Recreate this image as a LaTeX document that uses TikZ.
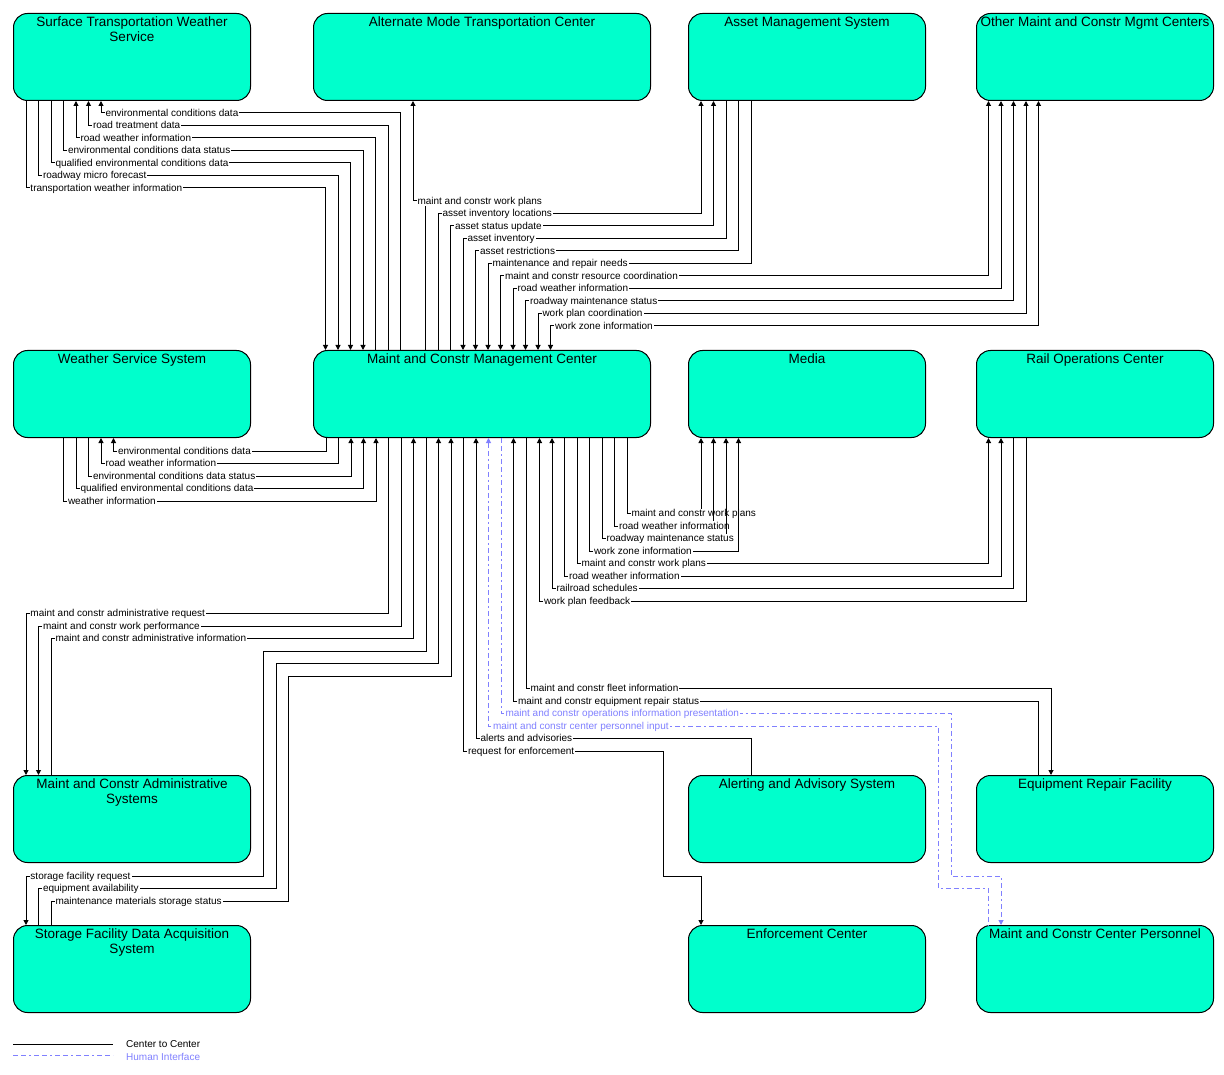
\documentclass[tikz,border=0pt]{standalone}
\usepackage{fontspec}
\setmainfont{Liberation Sans}
\usetikzlibrary{arrows.meta}
\definecolor{boxfill}{RGB}{0,255,204}
\definecolor{hiblue}{RGB}{128,128,255}
\begin{document}
\begin{tikzpicture}[x=1pt,y=-1pt,
  >={Triangle[length=5pt,width=5pt]},
  fwd/.style={->},
  bwd/.style={<-},
  box/.style={draw,fill=boxfill,rounded corners=14pt,line width=1pt,minimum width=237pt,minimum height=87pt,inner sep=0pt,anchor=north west},
  wide/.style={box,minimum width=337pt},
  ttl/.style={anchor=north,inner sep=1pt,yshift=-3pt,align=center,font=\fontsize{13.5}{15}\selectfont},
  flow/.style={line width=1pt},
  hflow/.style={flow,hiblue,dash pattern=on 5pt off 3pt on 5pt off 3pt on 2pt off 3pt},
  lab/.style={anchor=west,fill=white,inner xsep=1pt,inner ysep=0.5pt,xshift=3pt,text height=7.5pt,text depth=1pt,font=\fontsize{10}{11}\selectfont}]
\useasboundingbox (0,0) rectangle (1224,1075);
% boxes
\node[box,label={[ttl]north:{Surface Transportation Weather\\Service}}] (stws) at (13,13) {};
\node[wide,label={[ttl]north:Alternate Mode Transportation Center}] (amtc) at (313,13) {};
\node[box,label={[ttl]north:Asset Management System}] (ams) at (688,13) {};
\node[box,label={[ttl]north:Other Maint and Constr Mgmt Centers}] (omcmc) at (976,13) {};
\node[box,label={[ttl]north:Weather Service System}] (wss) at (13,350) {};
\node[wide,label={[ttl]north:Maint and Constr Management Center}] (mcmc) at (313,350) {};
\node[box,label={[ttl]north:Media}] (media) at (688,350) {};
\node[box,label={[ttl]north:Rail Operations Center}] (roc) at (976,350) {};
\node[box,label={[ttl]north:{Maint and Constr Administrative\\Systems}}] (mcas) at (13,775) {};
\node[box,label={[ttl]north:Alerting and Advisory System}] (aas) at (688,775) {};
\node[box,label={[ttl]north:Equipment Repair Facility}] (erf) at (976,775) {};
\node[box,label={[ttl]north:{Storage Facility Data Acquisition\\System}}] (sfdas) at (13,925) {};
\node[box,label={[ttl]north:Enforcement Center}] (ec) at (688,925) {};
\node[box,label={[ttl]north:Maint and Constr Center Personnel}] (mccp) at (976,925) {};
% surface transportation weather service
\foreach \xa/\yh/\xb/\dir/\txt [count=\i] in {
  101/113/400/bwd/environmental conditions data,
  88.5/125.5/388/bwd/road treatment data,
  76/138/375.5/bwd/road weather information,
  63.5/150.5/363/fwd/environmental conditions data status,
  51/163/350.5/fwd/qualified environmental conditions data,
  38.5/175.5/338/fwd/roadway micro forecast,
  26/188/325.5/fwd/transportation weather information}
  \draw[flow,\dir] (stws.south -| \xa,0) -- (\xa,\yh) node[lab] (stwsl\i) {\txt} -| (mcmc.north -| \xb,0);
% alternate mode
\draw[flow,<-] (amtc.south -| 413,0) -- (413,201) node[lab] (amtcl) {maint and constr work plans} -| (mcmc.north -| 425.5,0);
% asset management
\foreach \xa/\yh/\xb/\dir/\txt [count=\i] in {
  438/213.5/701/fwd/asset inventory locations,
  450.5/226/713.5/fwd/asset status update,
  463/238.5/726/bwd/asset inventory,
  475.5/251/738.5/bwd/asset restrictions,
  488/263.5/751/bwd/maintenance and repair needs}
  \draw[flow,\dir] (mcmc.north -| \xa,0) -- (\xa,\yh) node[lab] (amsl\i) {\txt} -| (ams.south -| \xb,0);
% other centers
\foreach \xa/\yh/\xb/\txt [count=\i] in {
  500.5/276/988.5/maint and constr resource coordination,
  513/288.5/1001/road weather information,
  525.5/301/1013.5/roadway maintenance status,
  538/313.5/1026/work plan coordination,
  550.5/326/1038.5/work zone information}
  \draw[flow,<->] (mcmc.north -| \xa,0) -- (\xa,\yh) node[lab] (omcl\i) {\txt} -| (omcmc.south -| \xb,0);
% weather service
\foreach \xa/\yh/\xb/\dir/\txt [count=\i] in {
  113.5/451/326/bwd/environmental conditions data,
  101/463.5/338.5/bwd/road weather information,
  88.5/476/351/fwd/environmental conditions data status,
  76/488.5/363.5/fwd/qualified environmental conditions data,
  63.5/501/376/fwd/weather information}
  \draw[flow,\dir] (wss.south -| \xa,0) -- (\xa,\yh) node[lab] (wssl\i) {\txt} -| (mcmc.south -| \xb,0);
% administrative systems
\foreach \xa/\yh/\xb/\dir/\txt [count=\i] in {
  26/613.5/388.5/bwd/maint and constr administrative request,
  38.5/626/401/bwd/maint and constr work performance,
  51/638.5/413.5/fwd/maint and constr administrative information}
  \draw[flow,\dir] (mcas.north -| \xa,0) -- (\xa,\yh) node[lab] (mcasl\i) {\txt} -| (mcmc.south -| \xb,0);
% storage facility
\foreach \xa/\yh/\xm/\ym/\xb/\dir/\txt [count=\i] in {
  26/876/263.5/651/426/bwd/storage facility request,
  38.5/888.5/276/663.5/438.5/fwd/equipment availability,
  51/901/288.5/676/451/fwd/maintenance materials storage status}
  \draw[flow,\dir] (sfdas.north -| \xa,0) -- (\xa,\yh) node[lab] (sfl\i) {\txt} -| (\xm,\ym) -| (mcmc.south -| \xb,0);
% media and rail
\foreach \xa/\yh/\xb/\txt [count=\i] in {
  627/513.5/701/maint and constr work plans,
  614.5/526/713.5/road weather information,
  602/538.5/726/roadway maintenance status,
  589.5/551/738.5/work zone information}
  \draw[flow,->] (mcmc.south -| \xa,0) -- (\xa,\yh) node[lab] (medl\i) {\txt} -| (media.south -| \xb,0);
\foreach \xa/\yh/\xb/\dir/\txt [count=\i] in {
  577/563.5/988.5/fwd/maint and constr work plans,
  564.5/576/1001/fwd/road weather information,
  552/588.5/1013.5/bwd/railroad schedules,
  539.5/601/1026/bwd/work plan feedback}
  \draw[flow,\dir] (mcmc.south -| \xa,0) -- (\xa,\yh) node[lab] (rocl\i) {\txt} -| (roc.south -| \xb,0);
% equipment repair
\draw[flow,->] (mcmc.south -| 526,0) -- (526,688.5) node[lab] (erfl1) {maint and constr fleet information} -| (erf.north -| 1051,0);
\draw[flow,<-] (mcmc.south -| 513.5,0) -- (513.5,701) node[lab] (erfl2) {maint and constr equipment repair status} -| (erf.north -| 1038.5,0);
% personnel
\draw[hflow,->] (mcmc.south -| 501,0) -- (501,713.5) node[lab] (mccpl1) {maint and constr operations information presentation} -| (951,876) -| (mccp.north -| 1001,0);
\draw[hflow,<-] (mcmc.south -| 488.5,0) -- (488.5,726) node[lab] (mccpl2) {maint and constr center personnel input} -| (938.5,888.5) -| (mccp.north -| 988.5,0);
% alerting and enforcement
\draw[flow,<-] (mcmc.south -| 476,0) -- (476,738.5) node[lab] (aasl) {alerts and advisories} -| (aas.north -| 751,0);
\draw[flow,->] (mcmc.south -| 463.5,0) -- (463.5,751) node[lab] (ecl) {request for enforcement} -| (663.5,876) -| (ec.north -| 701,0);
% legend
\draw[flow] (13,1044) -- (113,1044);
\node[anchor=west,inner sep=1pt,font=\fontsize{10}{11}\selectfont] (lg1) at (125,1044.5) {Center to Center};
\draw[hflow] (13,1055.5) -- (113,1055.5);
\node[anchor=west,inner sep=1pt,hiblue,font=\fontsize{10}{11}\selectfont] (lg2) at (125,1056.5) {Human Interface};
\end{tikzpicture}
\end{document}
